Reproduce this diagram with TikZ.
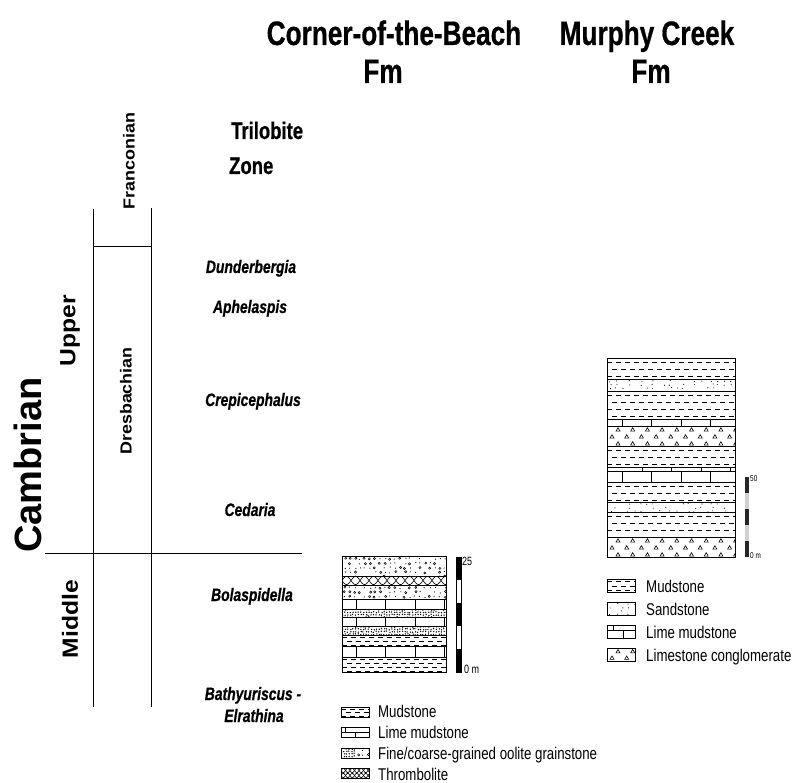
\documentclass[tikz,border=0pt]{standalone}
\usepackage{fontspec}
\setmainfont{Liberation Sans}
\newfontfamily\narrowsf[FakeStretch=0.75]{Liberation Sans}
\newfontfamily\headsf[FakeStretch=0.77,FakeBold=0.6]{Liberation Sans}
\newfontfamily\legendsf[FakeStretch=0.78]{Liberation Sans}
\newfontfamily\widesf[FakeStretch=1.12]{Liberation Sans}

% lithology fills, arguments are x1 y1 x2 y2 of the layer
\newcommand{\mudrows}[5]{%
  \begin{scope}
    \clip (#1,#2) rectangle (#3,#4);
    \pgfmathtruncatemacro\nrow{(#4-#2)/#5}
    \foreach \k in {0,...,\nrow}{
      \pgfmathsetmacro\yy{#2+#5*(\k+0.6)}
      \pgfmathsetmacro\ph{mod(\k,2)*4.5}
      \draw[line width=0.6pt,dash pattern=on 5pt off 4pt,dash phase=\ph pt] (#1,\yy) -- (#3,\yy);
    }
  \end{scope}}
\newcommand{\limerow}[5]{%
  \begin{scope}
    \clip (#1,#2) rectangle (#3,#4);
    \foreach \k in {0,...,5}
      \draw[line width=0.6pt] (#5+29.5*\k,#2) -- (#5+29.5*\k,#4);
  \end{scope}}
\newcommand{\oolfine}[4]{%
  \begin{scope}
    \clip (#1,#2) rectangle (#3,#4);
    \pgfmathtruncatemacro\ni{(#3-#1)/2.6+1}
    \pgfmathtruncatemacro\nj{(#4-#2)/2.6+1}
    \foreach \i in {0,...,\ni}{\foreach \j in {0,...,\nj}{
      \pgfmathsetmacro\xx{#1+\i*2.6+rnd*1.2}
      \pgfmathsetmacro\yy{#2+\j*2.6+rnd*1.2}
      \fill (\xx,\yy) circle (0.75);
    }}
  \end{scope}}
\newcommand{\ooliteco}[4]{%
  \begin{scope}
    \clip (#1,#2) rectangle (#3,#4);
    \pgfmathtruncatemacro\ni{(#3-#1)/5+1}
    \pgfmathtruncatemacro\nj{(#4-#2)/4.5+1}
    \foreach \i in {0,...,\ni}{\foreach \j in {0,...,\nj}{
      \pgfmathsetmacro\xx{#1+2+\i*5+rnd*2}
      \pgfmathsetmacro\yy{#2+2+\j*4.5+rnd*1.5}
      \pgfmathsetmacro\pick{rnd}
      \ifdim\pick pt<0.35pt
        \draw[line width=0.5pt] (\xx,\yy) circle (1.1);
      \else\ifdim\pick pt<0.8pt
        \fill (\xx,\yy) circle (0.6);
      \fi\fi
    }}
  \end{scope}}
\newcommand{\sandfill}[4]{%
  \begin{scope}
    \clip (#1,#2) rectangle (#3,#4);
    \pgfmathtruncatemacro\ni{(#3-#1)/6+1}
    \pgfmathtruncatemacro\nj{(#4-#2)/3.5+1}
    \foreach \i in {0,...,\ni}{\foreach \j in {0,...,\nj}{
      \pgfmathsetmacro\xx{#1+2+\i*6+rnd*3}
      \pgfmathsetmacro\yy{#2+1.5+\j*3.5+rnd*1.5}
      \pgfmathsetmacro\pick{rnd}
      \ifdim\pick pt<0.55pt
        \fill (\xx,\yy) circle (0.55);
      \fi
    }}
  \end{scope}}
\newcommand{\thromb}[5]{%
  \begin{scope}
    \clip (#1,#2) rectangle (#3,#4);
    \draw[line width=0.6pt,domain=#1:#3,samples=90,smooth,variable=\t]
      plot ({\t},{(#2+#4)/2+((#4-#2)/2-0.4)*sin((\t-#1)*#5)});
    \draw[line width=0.6pt,domain=#1:#3,samples=90,smooth,variable=\t]
      plot ({\t},{(#2+#4)/2-((#4-#2)/2-0.4)*sin((\t-#1)*#5)});
  \end{scope}}
\newcommand{\congl}[5]{%
  \begin{scope}
    \clip (#1,#2) rectangle (#3,#4);
    \pgfmathtruncatemacro\nrow{(#4-#2)/#5}
    \foreach \j in {0,...,\nrow}{\foreach \i in {0,...,9}{
      \pgfmathsetmacro\xx{#1+11+\i*14.7-mod(\j,2)*6}
      \pgfmathsetmacro\yy{#2+#5/2+\j*#5}
      \draw[line width=0.6pt] (\xx-2,\yy+1.6) -- (\xx,\yy-1.8) -- (\xx+2,\yy+1.6) -- cycle;
    }}
  \end{scope}}

\tikzset{
  title/.style={font=\headsf\bfseries\fontsize{34}{38}\selectfont,anchor=base,inner sep=0pt},
  zonehead/.style={font=\headsf\bfseries\fontsize{24}{28}\selectfont,anchor=base west,inner sep=0pt},
  zonename/.style={font=\headsf\bfseries\itshape\fontsize{18}{22}\selectfont,anchor=base,inner sep=0pt},
  stage/.style={font=\widesf\bfseries\fontsize{16}{18}\selectfont,rotate=90,inner sep=0pt},
  series/.style={font=\widesf\bfseries\fontsize{22}{24}\selectfont,rotate=90,inner sep=0pt},
  legendtext/.style={font=\legendsf\fontsize{17}{20}\selectfont,anchor=base west,inner sep=0pt},
  scalelabel/.style={font=\narrowsf\fontsize{#1}{#1}\selectfont,anchor=base west,inner sep=0pt},
  layerline/.style={line width=0.6pt},
  colframe/.style={line width=0.9pt},
}

\begin{document}
\begin{tikzpicture}[x=1pt,y=-1pt]
\useasboundingbox (0,0) rectangle (798,783);
\pgfmathsetseed{7}

% headings
\node[title] (cobtitle) at (394,45) {Corner-of-the-Beach};
\node[title] (cobfm) at (383,83) {Fm};
\node[title] (mctitle) at (647,45) {Murphy Creek};
\node[title] (mcfm) at (651,83) {Fm};
\node[zonehead] (trilo) at (231,139) {Trilobite};
\node[zonehead] (zone) at (229,174) {Zone};

% time scale
\draw[line width=0.8pt] (93,209) -- (93,707);
\draw[line width=0.8pt] (151,208) -- (151,707);
\draw[line width=0.8pt] (93,246) -- (151,246);
\draw[line width=0.8pt] (45,553) -- (302,553);
\node[font=\bfseries\fontsize{38}{40}\selectfont,rotate=90,inner sep=0pt] (cambrian) at (28,465) {Cambrian};
\node[series] (upper) at (70,331) {Upper};
\node[series] (middle) at (70,619) {Middle};
\node[stage] (franc) at (129,161) {Franconian};
\node[stage] (dresb) at (126,401) {Dresbachian};

% trilobite zones
\node[zonename] (dunder) at (251,273) {Dunderbergia};
\node[zonename] (aphel) at (250,313) {Aphelaspis};
\node[zonename] (crepi) at (253,406) {Crepicephalus};
\node[zonename] (cedar) at (250,516) {Cedaria};
\node[zonename] (bolas) at (252,601) {Bolaspidella};
\node[zonename] (bathy) at (253,700) {Bathyuriscus -};
\node[zonename] (elrat) at (254,722) {Elrathina};

% Corner-of-the-Beach column
\ooliteco{342}{556}{446}{576}
\thromb{342}{576}{446}{585}{20}
\ooliteco{342}{585}{446}{599}
\limerow{342}{599}{446}{609}{356}
\oolfine{342}{609}{446}{617}
\limerow{342}{617}{446}{626}{356}
\oolfine{342}{626}{446}{635}
\mudrows{342}{635}{446}{646}{4}
\limerow{342}{646}{446}{657}{356}
\mudrows{342}{657}{446}{672}{4}
\foreach \yb in {576,585,599,609,617,626,635,646,657}
  \draw[layerline] (342,\yb) -- (446,\yb);
\draw[colframe] (342,556) rectangle (446,672);

% scale 25 m
\foreach \k in {0,2,4}
  \fill (456,557+23*\k) rectangle (461,580+23*\k);
\draw[line width=0.6pt] (456,557) rectangle (461,672);
\node[scalelabel=12] (cobtop) at (462,565) {25};
\node[scalelabel=12] (cobzero) at (464,673) {0 m};

% Murphy Creek column
\mudrows{607}{358}{735}{379}{7}
\sandfill{607}{379}{735}{391}
\mudrows{607}{391}{735}{419}{7}
\limerow{607}{419}{735}{426}{622}
\congl{607}{426}{735}{446}{7}
\mudrows{607}{446}{735}{467}{7}
\limerow{607}{467}{735}{471}{642}
\limerow{607}{471}{735}{482}{622}
\mudrows{607}{482}{735}{502}{7}
\sandfill{607}{502}{735}{512}
\mudrows{607}{512}{735}{537}{7}
\congl{607}{537}{735}{557}{7}
\foreach \yb in {379,391,419,426,446,467,471,482,502,512,537}
  \draw[layerline] (607,\yb) -- (735,\yb);
\draw[colframe] (607,358) rectangle (735,557);

% scale 50 m
\fill[gray!35] (745,477) rectangle (749,557);
\foreach \k in {0,2,4}
  \fill[black!85] (745,477+16*\k) rectangle (749,493+16*\k);
\node[scalelabel=8.5] (mctop) at (750,482) {50};
\node[scalelabel=8.5] (mczero) at (750,558) {0 m};

% legend, Corner-of-the-Beach
\mudrows{341}{707}{369}{717}{3.4}
\draw[layerline] (341,707) rectangle (369,717);
\draw[layerline] (341,727) rectangle (369,737) (341,732) -- (369,732)
  (345,727) -- (345,732) (355,732) -- (355,737);
\oolfine{341}{748}{355}{758}
\ooliteco{355}{748}{369}{758}
\draw[layerline] (341,748) rectangle (369,758);
\thromb{341}{768}{369}{773}{40}
\thromb{341}{773}{369}{778}{40}
\draw[layerline] (341,768) rectangle (369,778);
\node[legendtext] (lgmud) at (378,717) {Mudstone};
\node[legendtext] (lglime) at (378,738) {Lime mudstone};
\node[legendtext] (lgool) at (378,759) {Fine/coarse-grained oolite grainstone};
\node[legendtext] (lgthr) at (378,780) {Thrombolite};

% legend, Murphy Creek
\mudrows{607}{579}{635}{592}{4.5}
\draw[layerline] (607,579) rectangle (635,592);
\sandfill{607}{602}{635}{615}
\draw[layerline] (607,602) rectangle (635,615);
\draw[layerline] (607,625) rectangle (635,638) (607,630) -- (635,630)
  (613,625) -- (613,630) (623,630) -- (623,638);
\congl{607}{648}{635}{661}{6.5}
\draw[layerline] (607,648) rectangle (635,661);
\node[legendtext] (mgmud) at (646,592) {Mudstone};
\node[legendtext] (mgsand) at (646,615) {Sandstone};
\node[legendtext] (mglime) at (646,638) {Lime mudstone};
\node[legendtext] (mgcong) at (646,661) {Limestone conglomerate};
\end{tikzpicture}
\end{document}
